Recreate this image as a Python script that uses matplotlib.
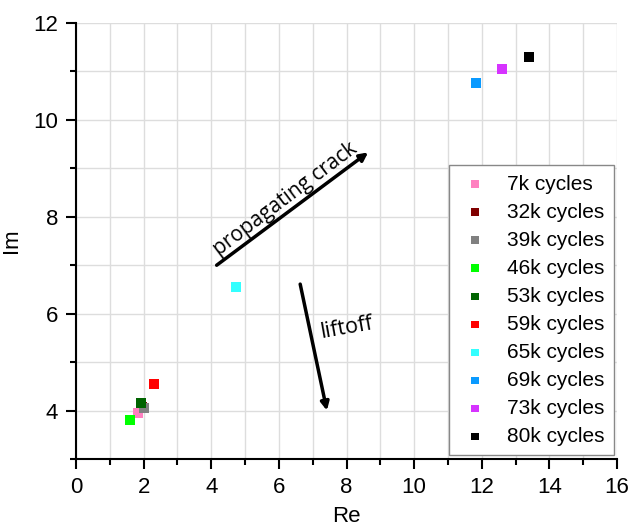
import matplotlib
matplotlib.use("Agg")
import matplotlib.pyplot as plt
from matplotlib.ticker import MultipleLocator

tick_font_size = 16
label_font_size = 16
legend_font_size = 15

matplotlib.rcParams['font.family'] = ["Liberation Sans", "DejaVu Sans"]

# data
labels = ["7k cycles", "32k cycles", "39k cycles", "46k cycles", "53k cycles",
          "59k cycles", "65k cycles", "69k cycles", "73k cycles", "80k cycles"]
re_vals = [1.83, 1.96, 2.00, 1.59, 1.92, 2.31, 4.73, 11.82, 12.60, 13.39]
im_vals = [3.95, 4.08, 4.06, 3.81, 4.16, 4.55, 6.55, 10.77, 11.05, 11.29]
colors = ["#FF80C0", "#800000", "#808080", "#00FF00", "#006400",
          "#FF0000", "#33FFFF", "#0A9AFF", "#D633FF", "#000000"]
# draw order so the grey square sits on top of the dark red one
draw_order = [1, 0, 2, 3, 4, 5, 6, 7, 8, 9]

fig = plt.figure(figsize=(6.29, 5.28), dpi=100)
ax = fig.add_axes([0.1208, 0.1307, 0.8602, 0.8257])

handles = {}
for i in draw_order:
    handles[i] = ax.scatter(re_vals[i], im_vals[i], marker='s', s=52,
                            color=colors[i], edgecolors='none', label=labels[i],
                            zorder=3)

ax.set_xlim(0, 16)
ax.set_ylim(3, 12)
ax.xaxis.set_major_locator(MultipleLocator(2))
ax.xaxis.set_minor_locator(MultipleLocator(1))
ax.yaxis.set_major_locator(MultipleLocator(2))
ax.yaxis.set_minor_locator(MultipleLocator(1))
ax.grid(True, which='both', color='#DDDDDD', linewidth=1.0, zorder=0)
ax.set_axisbelow(True)

for side in ['top', 'right']:
    ax.spines[side].set_visible(False)
for side in ['left', 'bottom']:
    ax.spines[side].set_linewidth(1.5)

ax.tick_params(which='major', direction='out', length=7, width=1.5,
               labelsize=tick_font_size, pad=6)
ax.tick_params(which='minor', direction='out', length=4, width=1.5)

ax.set_xlabel('Re', fontsize=label_font_size, labelpad=6)
ax.set_ylabel('Im', fontsize=label_font_size, labelpad=8)

leg = ax.legend([handles[i] for i in range(len(labels))], labels,
                loc='upper right', bbox_to_anchor=(0.9945, 0.674),
                fontsize=legend_font_size, frameon=True, fancybox=False,
                edgecolor='#888888', framealpha=1.0, scatterpoints=1,
                markerscale=0.75, handletextpad=0.75, labelspacing=0.435,
                borderpad=0.45, handlelength=1.6, borderaxespad=0)
leg.get_frame().set_linewidth(1.0)

# annotation arrows
ax.annotate('', xy=(8.64, 9.33), xytext=(4.16, 7.0),
            arrowprops=dict(arrowstyle='-|>', color='black', lw=2.5,
                            mutation_scale=12, shrinkA=0, shrinkB=0))
ax.text(6.18, 8.37, 'propagating crack', rotation=37, ha='center', va='center',
        fontsize=15, family=['Open Sans', 'DejaVu Sans'])

ax.annotate('', xy=(7.42, 4.0), xytext=(6.63, 6.61),
            arrowprops=dict(arrowstyle='-|>', color='black', lw=2.5,
                            mutation_scale=12, shrinkA=0, shrinkB=0))
ax.text(8.0, 5.71, 'liftoff', rotation=10, ha='center', va='center',
        fontsize=15.5, family=['Open Sans', 'DejaVu Sans'])

fig.savefig('out.png', dpi=100)
